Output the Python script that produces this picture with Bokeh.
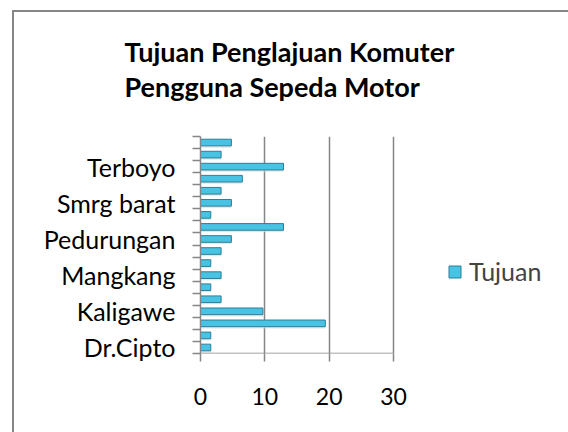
from bokeh.plotting import figure
from bokeh.models import (ColumnDataSource, FixedTicker, Legend, LegendItem,
                          Title, InlineStyleSheet)
from bokeh.transform import dodge
from bokeh.embed import file_html
from bokeh.resources import INLINE

# ---- data ----
categories = ["Dr.Cipto", "Genuk", "Johar", "Kaligawe", "Karangayu", "Majapahit",
              "Mangkang", "Ngaliyan", "Pandanaran", "Pedurungan", "Simpang Lima",
              "Smrg atas", "Smrg barat", "Smrg tengah", "Smrg timur", "Terboyo",
              "Tlogosari", "Tugu"]
tujuan = [1.6, 1.6, 19.4, 9.7, 3.2, 1.6, 3.2, 1.6, 3.2, 4.8, 12.9, 1.6, 4.8,
          3.2, 6.5, 12.9, 3.2, 4.8]
x_ticks = [0, 10, 20, 30]
title_lines = ["Tujuan Penglajuan Komuter", "Pengguna Sepeda Motor"]
series_name = "Tujuan"

FONT = "Lato"
GRAY = "#868686"

# layout: value axis 0..30 spans 193px; frame extends to canvas right edge
FRAME_LEFT, FRAME_W = 200, 368
PX_PER_UNIT = 193 / (x_ticks[-1] - x_ticks[0])
x_end = FRAME_W / PX_PER_UNIT

pos = list(range(1, len(categories) + 1))
src = ColumnDataSource(dict(y=pos, x=tujuan, cat=categories))

p = figure(width=568, height=432, output_backend="svg", toolbar_location=None,
           x_range=(0, x_end), y_range=(0.5, len(categories) + 0.5),
           min_border_left=FRAME_LEFT, min_border_right=0, min_border_top=136,
           min_border_bottom=79, title=None)
p.outline_line_color = None
p.background_fill_color = None
p.border_fill_color = "white"

p.add_layout(Title(text="\n".join(title_lines), align="left", offset=-76,
                   standoff=66, text_line_height=1.07,
                   text_font=FONT, text_font_size="27px", text_font_style="bold",
                   text_color="black"), "above")

# soft shadow under bars
p.hbar(y=dodge("y", -0.15), right="x", left=0.2, height=0.55, source=src,
       fill_color="#dcdcdc", fill_alpha=0.7, line_color=None)
bars = p.hbar(y="y", right="x", left=0, height=0.55, source=src,
              fill_color="#48c3e4", line_color="#2b7f96", line_width=1)

# value-axis baseline only across the tick span
p.segment(x0=[x_ticks[0]], x1=[x_ticks[-1]], y0=[0.5], y1=[0.5],
          line_color=GRAY, line_width=1.5)

# axes
xa = p.xaxis[0]
xa.ticker = FixedTicker(ticks=x_ticks)
xa.axis_line_color = None
xa.major_tick_line_color = GRAY
xa.major_tick_line_width = 1.5
xa.major_tick_out = 8
xa.major_tick_in = 0
xa.minor_tick_line_color = None
xa.major_label_text_font = FONT
xa.major_label_text_font_size = "23px"
xa.major_label_text_color = "black"
xa.major_label_standoff = 26

ya = p.yaxis[0]
label_pos = pos[::3]
ya.ticker = FixedTicker(ticks=label_pos,
                        minor_ticks=[v + 0.5 for v in range(0, len(categories) + 1)])
ya.major_label_overrides = {v: categories[v - 1] for v in label_pos}
ya.axis_line_color = GRAY
ya.axis_line_width = 1.5
ya.major_tick_line_color = None
ya.minor_tick_line_color = GRAY
ya.minor_tick_line_width = 1.5
ya.minor_tick_out = 8
ya.minor_tick_in = 0
ya.major_label_text_font = FONT
ya.major_label_text_font_size = "25px"
ya.major_label_text_color = "black"
ya.major_label_standoff = 17

p.xgrid.ticker = FixedTicker(ticks=x_ticks[1:])
p.xgrid.grid_line_color = GRAY
p.xgrid.grid_line_width = 1.5
p.ygrid.grid_line_color = None

legend = Legend(items=[LegendItem(label=series_name, renderers=[bars])],
                location=(247, 67), label_text_font=FONT,
                label_text_font_size="25px", glyph_width=15, glyph_height=15,
                label_standoff=7, padding=0, margin=0,
                border_line_color=None, background_fill_color=None)
p.add_layout(legend, "center")

p.stylesheets = [InlineStyleSheet(css="""
:host::after { content: ""; position: absolute; left: 12px; top: 10px;
  right: -20px; bottom: -20px; border-left: 2px solid #868686;
  border-top: 2px solid #868686; pointer-events: none; }
""")]

open("out.html", "w").write(file_html(p, INLINE))
